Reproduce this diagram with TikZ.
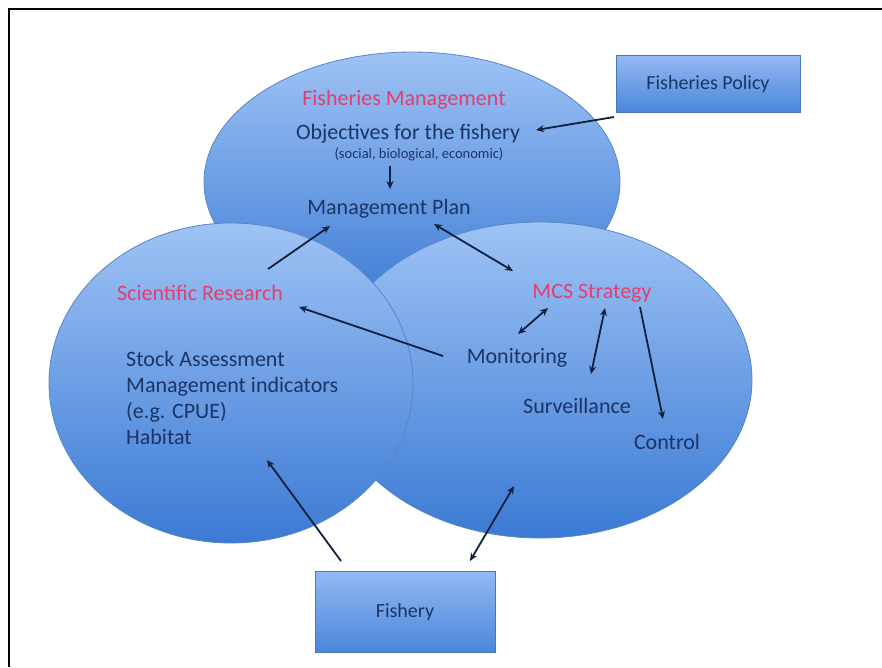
\documentclass[tikz,border=0pt]{standalone}
\usepackage{fontspec}
\setmainfont{Carlito}
\usetikzlibrary{shapes.geometric,arrows.meta}
\definecolor{navy}{HTML}{1B3466}
\definecolor{pinkred}{HTML}{E23F6E}
\definecolor{arrowc}{HTML}{12203F}
\definecolor{elltop}{HTML}{9EC3F5}
\definecolor{ellbot}{HTML}{3B7AD4}
\definecolor{elledge}{HTML}{5A86C4}
\definecolor{boxtop}{HTML}{93B9F3}
\definecolor{boxbot}{HTML}{4A86DA}
\definecolor{boxedge}{HTML}{4A76B8}
\begin{document}
\begin{tikzpicture}[x=1pt,y=-1pt,
  blob/.style={shape=ellipse, draw=elledge, line width=0.8pt, inner sep=0pt,
    top color=elltop, bottom color=ellbot},
  pbox/.style={shape=rectangle, draw=boxedge, line width=0.8pt, top color=boxtop,
    bottom color=boxbot, text=navy, font=\fontsize{20}{24}\selectfont},
  lbl/.style={text=navy, font=\fontsize{22}{26}\selectfont, inner sep=1pt},
  title/.style={text=pinkred, font=\fontsize{22}{26}\selectfont, inner sep=1pt},
  arr/.style={draw=arrowc, line width=1.8pt, -{Stealth[length=8pt,width=7pt]}},
  darr/.style={draw=arrowc, line width=1.8pt, {Stealth[length=8pt,width=7pt]}-{Stealth[length=8pt,width=7pt]}}]
\useasboundingbox (0,0) rectangle (882,667);
\fill[white] (0,0) rectangle (882,667);
\draw[line width=2.5pt, black] (9,667) -- (9,9) -- (882,9);

% ellipses
\node[blob, minimum width=416pt, minimum height=260pt] (emgmt) at (412,182) {};
\node[blob, minimum width=424pt, minimum height=316pt] (emcs) at (540,380) {};
\node[blob, minimum width=364pt, minimum height=320pt] (esci) at (231,383) {};

% boxes
\node[pbox, minimum width=184pt, minimum height=57pt] (pol) at (708,84) {Fisheries Policy};
\node[pbox, minimum width=180pt, minimum height=81pt] (fish) at (405,612) {Fishery};

% texts
\node[title] (fm) at (404,100) {Fisheries Management};
\node[lbl] (obj) at (408,134) {Objectives for the fishery};
\node[text=navy, font=\fontsize{14.5}{17}\selectfont, inner sep=1pt] (objsub) at (419,154) {(social, biological, economic)};
\node[lbl] (plan) at (389,209) {Management Plan};
\node[title] (sr) at (200,293) {Scientific Research};
\node[lbl, align=left, anchor=west] (stock) at (125,398) {Stock Assessment\\Management indicators\\(e.g. CPUE)\\Habitat};
\node[title] (mcs) at (592,293) {MCS Strategy};
\node[lbl] (mon) at (517,358) {Monitoring};
\node[lbl] (surv) at (577,406) {Surveillance};
\node[lbl] (ctrl) at (667,442) {Control};

% connector end points
\coordinate (polEnd) at (614,117);
\coordinate (objEnd) at (536,130);
\coordinate (subEnd) at (390,166);
\coordinate (planTop) at (390,189);
\coordinate (srTail) at (268,269);
\coordinate (planLeft) at (330,226);
\coordinate (planRight) at (434,224);
\coordinate (mcsLeft) at (513,271);
\coordinate (monTail) at (443,356);
\coordinate (srRight) at (299,307);
\coordinate (monUp) at (518,334);
\coordinate (mcsMonEnd) at (548,308);
\coordinate (mcsSurvTop) at (605,308);
\coordinate (survTop) at (591,374);
\coordinate (mcsCtrlTop) at (640,307);
\coordinate (ctrlTop) at (663,419);
\coordinate (fishTailL) at (341,561);
\coordinate (sciBottom) at (267,460);
\coordinate (fishTailR) at (470,561);
\coordinate (mcsBottom) at (514,486);

% connectors
\draw[arr] (polEnd) -- (objEnd);
\draw[arr] (subEnd) -- (planTop);
\draw[arr] (srTail) -- (planLeft);
\draw[darr] (planRight) -- (mcsLeft);
\draw[arr] (monTail) -- (srRight);
\draw[darr] (monUp) -- (mcsMonEnd);
\draw[darr] (mcsSurvTop) -- (survTop);
\draw[arr] (mcsCtrlTop) -- (ctrlTop);
\draw[arr] (fishTailL) -- (sciBottom);
\draw[darr] (fishTailR) -- (mcsBottom);
\end{tikzpicture}
\end{document}
